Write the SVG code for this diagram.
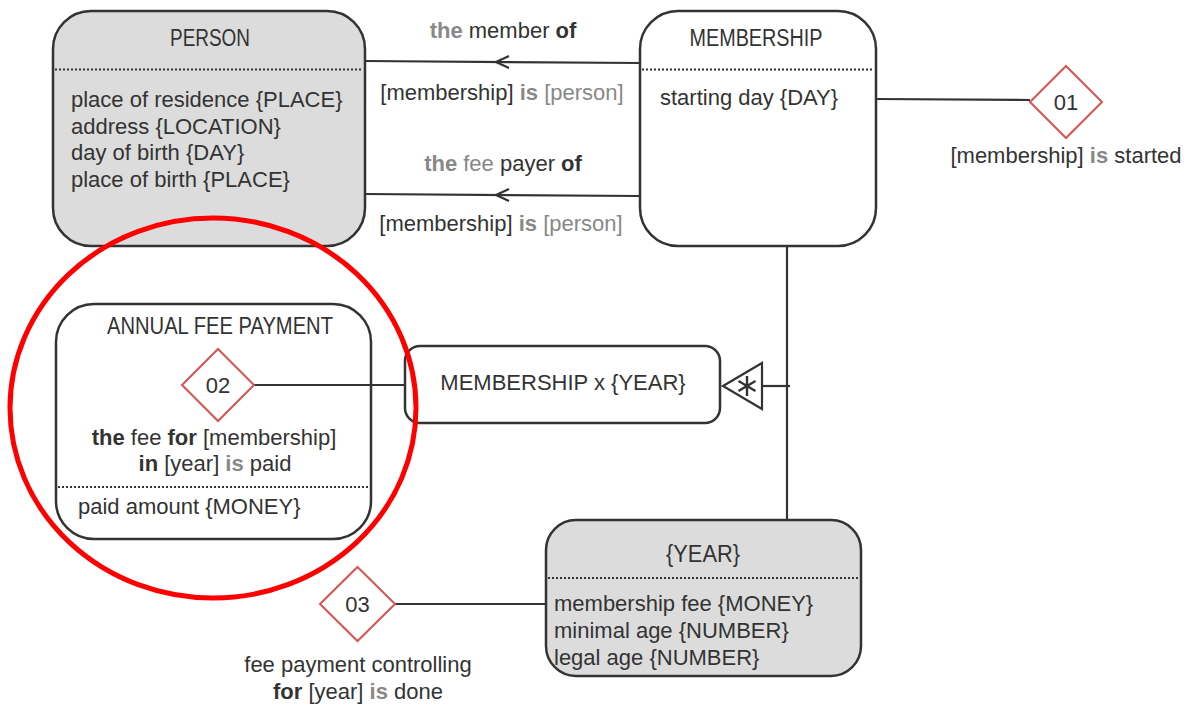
<svg xmlns="http://www.w3.org/2000/svg" width="1195" height="707" viewBox="0 0 1195 707">
  <style>
    text { font-family: "Liberation Sans", Arial, sans-serif; font-size: 22px; fill: #333; }
    .title { font-size: 23px; }
    .c { text-anchor: middle; }
    .b { font-weight: bold; }
    .g { fill: #888; }
    .box { stroke: #333; stroke-width: 2.5; }
    .grey { fill: #dcdcdc; }
    .white { fill: #fff; }
    .dots { stroke: #333; stroke-width: 2; stroke-dasharray: 2 2; fill: none; }
    .line { stroke: #333; stroke-width: 2.2; fill: none; }
    .dia { fill: #fff; stroke: #d9534f; stroke-width: 2; }
    .num { font-size: 22px; text-anchor: middle; }
  </style>
  <rect width="1195" height="707" fill="#fff"/>

  <g id="person">
    <rect class="box grey" x="53" y="11" width="312" height="235" rx="38"/>
    <line class="dots" x1="55" y1="69.5" x2="363" y2="69.5"/>
    <text class="title c" x="210" y="46" textLength="80" lengthAdjust="spacingAndGlyphs">PERSON</text>
    <text x="71" y="107">place of residence {PLACE}</text>
    <text x="71" y="134">address {LOCATION}</text>
    <text x="71" y="160">day of birth {DAY}</text>
    <text x="71" y="187">place of birth {PLACE}</text>
  </g>

  <g id="role-labels">
    <text class="c" x="503" y="38"><tspan class="b g">the</tspan> member <tspan class="b">of</tspan></text>
    <text class="c" x="502" y="100">[membership] <tspan class="b g">is</tspan> <tspan class="g">[person]</tspan></text>
    <text class="c" x="503" y="171"><tspan class="b g">the</tspan> <tspan class="g">fee</tspan> payer <tspan class="b">of</tspan></text>
    <text class="c" x="501" y="231">[membership] <tspan class="b g">is</tspan> <tspan class="g">[person]</tspan></text>
  </g>

  <g id="membership">
    <rect class="box white" x="640" y="11" width="236" height="235" rx="38"/>
    <line class="dots" x1="642" y1="69.5" x2="874" y2="69.5"/>
    <text class="title c" x="756" y="46" textLength="133" lengthAdjust="spacingAndGlyphs">MEMBERSHIP</text>
    <text x="660" y="105">starting day {DAY}</text>
  </g>

  <g id="annual-fee-payment">
    <rect class="box white" x="56" y="304" width="315" height="235" rx="38"/>
    <text class="title c" x="220" y="334" textLength="226" lengthAdjust="spacingAndGlyphs">ANNUAL FEE PAYMENT</text>
    <text class="c" x="214" y="445"><tspan class="b">the</tspan> fee <tspan class="b">for</tspan> [membership]</text>
    <text class="c" x="215" y="471"><tspan class="b">in</tspan> [year] <tspan class="b g">is</tspan> paid</text>
    <line class="dots" x1="58" y1="487" x2="369" y2="487"/>
    <text x="78" y="514">paid amount {MONEY}</text>
  </g>

  <g id="membership-x-year">
    <rect class="box white" x="405" y="346" width="315" height="77" rx="15"/>
    <text class="c" x="563" y="390">MEMBERSHIP x {YEAR}</text>
  </g>

  <g id="year">
    <rect class="box grey" x="546" y="520" width="315" height="156" rx="30"/>
    <line class="dots" x1="548" y1="578" x2="859" y2="578"/>
    <text class="title c" x="703" y="562" textLength="74" lengthAdjust="spacingAndGlyphs">{YEAR}</text>
    <text x="554" y="611">membership fee {MONEY}</text>
    <text x="554" y="638">minimal age {NUMBER}</text>
    <text x="554" y="665">legal age {NUMBER}</text>
  </g>

  <g id="connectors">
    <!-- membership to person roles -->
    <line class="line" x1="640" y1="63" x2="365" y2="61"/>
    <path class="line" d="M509 56 L496 62 L509 68"/>
    <line class="line" x1="640" y1="196" x2="365" y2="194"/>
    <path class="line" d="M509 189 L496 195 L509 201"/>
    <!-- membership to fact 01 -->
    <line class="line" x1="876" y1="99" x2="1030" y2="100"/>
    <!-- fact 02 to nested type -->
    <line class="line" x1="254" y1="385" x2="405" y2="385"/>
    <!-- objectification spine -->
    <line class="line" x1="787" y1="246" x2="787" y2="521"/>
    <line class="line" x1="762" y1="386" x2="790" y2="386"/>
    <!-- fact 03 to year -->
    <line class="line" x1="395" y1="604" x2="546" y2="604"/>
  </g>

  <g id="fact-01">
    <polygon class="dia" points="1066,66 1102,102 1066,138 1030,102"/>
    <text class="num" x="1066" y="110">01</text>
    <text class="c" x="1066" y="163">[membership] <tspan class="b g">is</tspan> started</text>
  </g>

  <g id="fact-02">
    <polygon class="dia" points="218,349 254,385 218,421 182,385"/>
    <text class="num" x="218" y="393">02</text>
  </g>

  <g id="objectification">
    <polygon points="723,386 762,363 762,409" fill="#fff" stroke="#333" stroke-width="2.2"/>
    <g stroke="#333" stroke-width="2.4">
      <line x1="747" y1="376" x2="747" y2="396"/>
      <line x1="738.5" y1="381" x2="755.5" y2="391"/>
      <line x1="738.5" y1="391" x2="755.5" y2="381"/>
    </g>
  </g>

  <g id="fact-03">
    <polygon class="dia" points="357.5,567 395,604 357.5,641 320,604"/>
    <text class="num" x="357.5" y="612">03</text>
    <text class="c" x="358" y="672">fee payment controlling</text>
    <text class="c" x="358" y="699"><tspan class="b">for</tspan> [year] <tspan class="b g">is</tspan> done</text>
  </g>

  <g id="highlight">
    <ellipse cx="213" cy="408" rx="203" ry="190" fill="none" stroke="#f00" stroke-width="5"/>
  </g>
</svg>
